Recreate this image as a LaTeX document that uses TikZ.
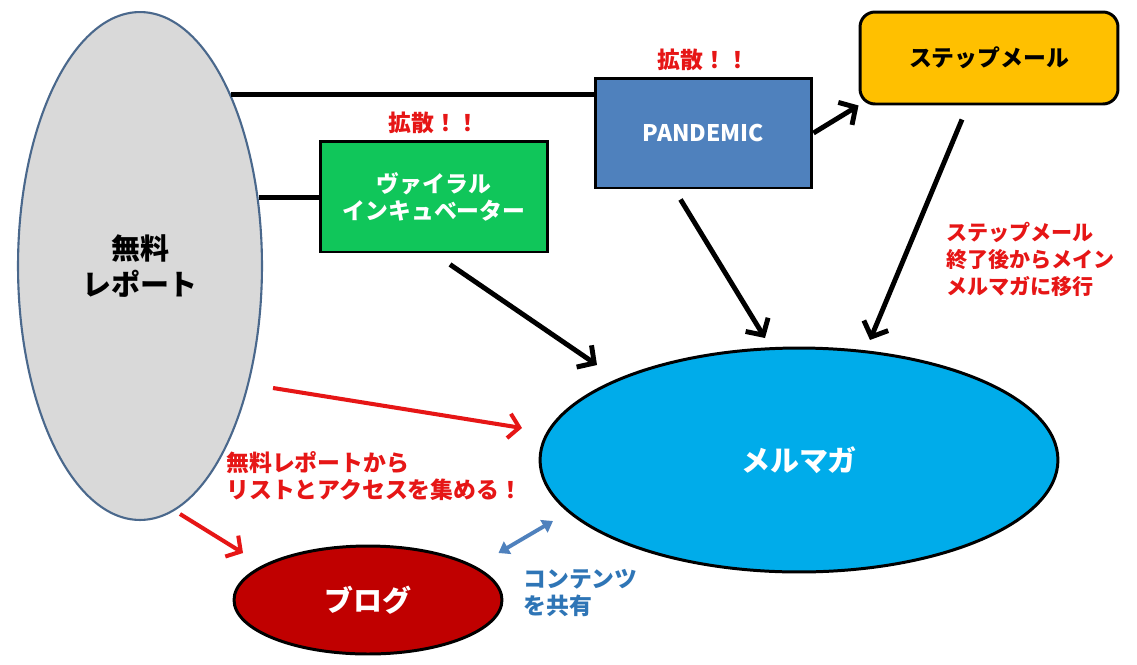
\documentclass[tikz,border=0pt]{standalone}
\usepackage{fontspec}
\setmainfont{Noto Sans CJK JP}
\usetikzlibrary{shapes.geometric,arrows.meta,positioning}
\definecolor{repgray}{RGB}{217,217,217}
\definecolor{repedge}{RGB}{74,104,140}
\definecolor{viralgreen}{RGB}{16,198,90}
\definecolor{pandblue}{RGB}{79,129,189}
\definecolor{stepgold}{RGB}{255,192,0}
\definecolor{mailblue}{RGB}{0,172,234}
\definecolor{blogred}{RGB}{192,0,0}
\definecolor{notered}{RGB}{230,22,22}
\definecolor{shareblue}{RGB}{46,117,182}

\begin{document}
\begin{tikzpicture}[x=0.02cm,y=-0.02cm,
	small/.style={font=\bfseries\fontsize{13pt}{15.4pt}\selectfont},
	big/.style={font=\bfseries\fontsize{16.5pt}{21pt}\selectfont},
	box/.style={draw=black,line width=1.7pt,align=center,small,text=white,inner sep=0pt},
	oval/.style={ellipse,draw=black,line width=1.7pt,align=center,big,text=white,inner sep=0pt},
	redtxt/.style={small,text=notered,align=left,inner sep=0pt},
	blk/.style={line width=2.8pt,-{Straight Barb[length=7pt,width=15pt]}},
	redarr/.style={notered,line width=2.3pt,-{Straight Barb[length=6pt,width=14pt]}},
	share/.style={pandblue,line width=2.2pt,{Triangle[length=6pt,width=8pt]}-{Triangle[length=6pt,width=8pt]}}
	]
	\fill[white] (0,0) rectangle (1137,664);
	% nodes
	\node[ellipse,draw=repedge,line width=1.2pt,fill=repgray,minimum width=4.88cm,minimum height=10.16cm,big,align=center,inner sep=0pt] (report) at (140,266) {無料\\レポート};
	\node[box,fill=viralgreen,minimum width=4.56cm,minimum height=2.22cm] (viral) at (434,196.5) {ヴァイラル\\インキュベーター};
	\node[box,fill=pandblue,minimum width=4.34cm,minimum height=2.2cm] (pandemic) at (703.5,133) {PANDEMIC};
	\node[box,rounded corners=0.3cm,fill=stepgold,text=black,minimum width=5.16cm,minimum height=1.84cm] (step) at (989,58) {ステップメール};
	\node[oval,fill=mailblue,minimum width=10.36cm,minimum height=4.48cm] (mail) at (799,460) {メルマガ};
	\node[oval,fill=blogred,minimum width=5.36cm,minimum height=2.16cm] (blog) at (368,600) {ブログ};
	% labels
	\node[redtxt,above=0.1cm of viral] (spreadA) {拡散！！};
	\node[redtxt,above=0.1cm of pandemic] (spreadB) {拡散！！};
	\node[redtxt,anchor=west,font=\bfseries\fontsize{12pt}{15.4pt}\selectfont] (stepnote) at (946,259) {ステップメール\\終了後からメイン\\メルマガに移行};
	\node[redtxt,anchor=west] (collect) at (226,476) {無料レポートから\\リストとアクセスを集める！};
	\node[small,text=shareblue,align=left,inner sep=0pt,anchor=west] (sharenote) at (523,593) {コンテンツ\\を共有};
	% arrow ends
	\coordinate (tipViral) at (597,365);
	\coordinate (tipPand) at (765,338);
	\coordinate (tipStep) at (870,340);
	\coordinate (tipRep) at (522,428);
	\coordinate (tipBlog) at (243,553);
	\coordinate (tipShare) at (553,521);
	% connectors
	\draw[line width=2.8pt] (report.62) -- (report.62 -| pandemic.west);
	\draw[line width=2.8pt] (report.30.5 -| viral.west) -- (report.30.5);
	\draw[blk] (pandemic.east) -- (step.south west);
	\draw[blk] (viral.south) ++(16,11) -- (tipViral);
	\draw[blk] (pandemic.south) ++(-23,10) -- (tipPand);
	\draw[blk] (step.south) ++(-27,14) -- (tipStep);
	\draw[redarr] (report.east) ++(10,122) -- (tipRep);
	\draw[redarr] (report.south) ++(40,-7) -- (tipBlog);
	\draw[share] (blog.east) ++(-5,-47) -- (tipShare);
\end{tikzpicture}
\end{document}
